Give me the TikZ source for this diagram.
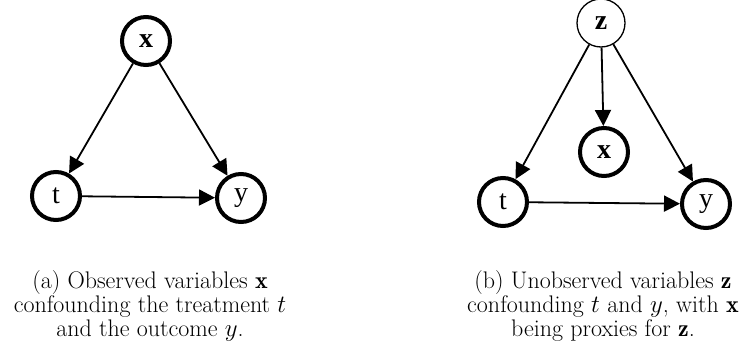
\documentclass[tikz,border=0pt]{standalone}
\usepackage{fontspec}
\newfontfamily\nodefont{Liberation Serif}
\usetikzlibrary{arrows.meta}
\begin{document}
\begin{tikzpicture}[x=1pt,y=-1pt,
  var/.style={circle,draw=black,minimum size=48pt,inner sep=0pt,font=\nodefont\fontsize{28}{30}\selectfont},
  obs/.style={var,line width=4pt},
  lat/.style={var,line width=1.3pt},
  edge/.style={line width=1.8pt,-{Triangle[length=16pt,width=16pt]}},
  captext/.style={align=center,font=\fontsize{24}{24}\selectfont,anchor=base}]
\useasboundingbox (0,0) rectangle (745,343);
% (a)
\node[obs] (xa) at (146,41) {\textbf{x}};
\node[obs] (ta) at (56,196) {t};
\node[obs] (ya) at (241,198) {y};
\draw[edge] (xa) -- (ta);
\draw[edge] (xa) -- (ya);
\draw[edge] (ta) -- (ya);
% (b)
\node[lat] (zb) at (601,23) {\textbf{z}};
\node[obs] (xb) at (604,152) {\textbf{x}};
\node[obs] (tb) at (503,202) {t};
\node[obs] (yb) at (706,204) {y};
\draw[edge] (zb) -- (xb);
\draw[edge] (zb) -- (tb);
\draw[edge] (zb) -- (yb);
\draw[edge] (tb) -- (yb);
% captions
\node[captext] (capa) at (150,336) {(a) Observed variables $\mathbf{x}$\\confounding the treatment $t$\\and the outcome $y$.};
\node[captext] (capb) at (603,336) {(b) Unobserved variables $\mathbf{z}$\\confounding $t$ and $y$, with $\mathbf{x}$\\being proxies for $\mathbf{z}$.};
\end{tikzpicture}
\end{document}
